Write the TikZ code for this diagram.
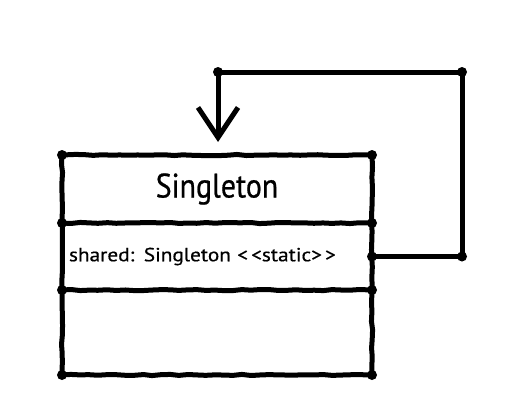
\documentclass[tikz,border=0pt]{standalone}
\usepackage{fontspec}
\setmainfont{PT Sans}
\newfontfamily\titlefont[FakeStretch=0.88,FakeBold=0.6]{PT Sans}
\newfontfamily\attrfont[FakeStretch=1.12,FakeBold=0.5]{PT Sans}
\usetikzlibrary{arrows.meta,decorations.pathmorphing}

\begin{document}
\begin{tikzpicture}[x=1pt,y=-1pt]
\tikzstyle{every node}+=[inner sep=0pt]
\tikzstyle{sketch}=[black, line width=5pt, line join=round, line cap=round, decorate, decoration={random steps,segment length=9pt,amplitude=0.6pt}]
\tikzstyle{part}=[minimum width=310pt, anchor=north west, outer sep=0pt]
\tikzstyle{link}=[black, line width=5pt, line join=round, -{Straight Barb[length=30pt,width=40pt]}, shorten >=13pt]
\useasboundingbox [fill=white] (0,0) rectangle (510,412);
\node [part, minimum height=68pt, font=\titlefont\fontsize{34}{40}\selectfont] (name) at (62,155) {Singleton};
\node [part, minimum height=67pt, text width=302pt, align=left, font=\attrfont\fontsize{19}{23}\selectfont] (attr) at (62,223) {\hspace*{3pt}shared: Singleton <\,<static>\,>};
\node [part, minimum height=85pt] (ops) at (62,290) {};
\draw [sketch] (name.north west) rectangle (ops.south east);
\draw [sketch] (attr.north west) -- (attr.north east);
\draw [sketch] (attr.south west) -- (attr.south east);
\coordinate (turnA) at (462,72);
\coordinate (turnB) at (218,72);
\draw [link] (attr.east) -| (turnA) -- (turnB) -- (name.north -| turnB);
\foreach \p in {name.north west, name.north east, attr.north west, attr.north east, attr.south west, attr.south east, ops.south west, ops.south east, attr.east, turnB}
  \fill (\p) circle (5pt);
\fill (attr.east -| turnA) circle (5pt);
\fill (turnA) circle (5pt);
\end{tikzpicture}
\end{document}
